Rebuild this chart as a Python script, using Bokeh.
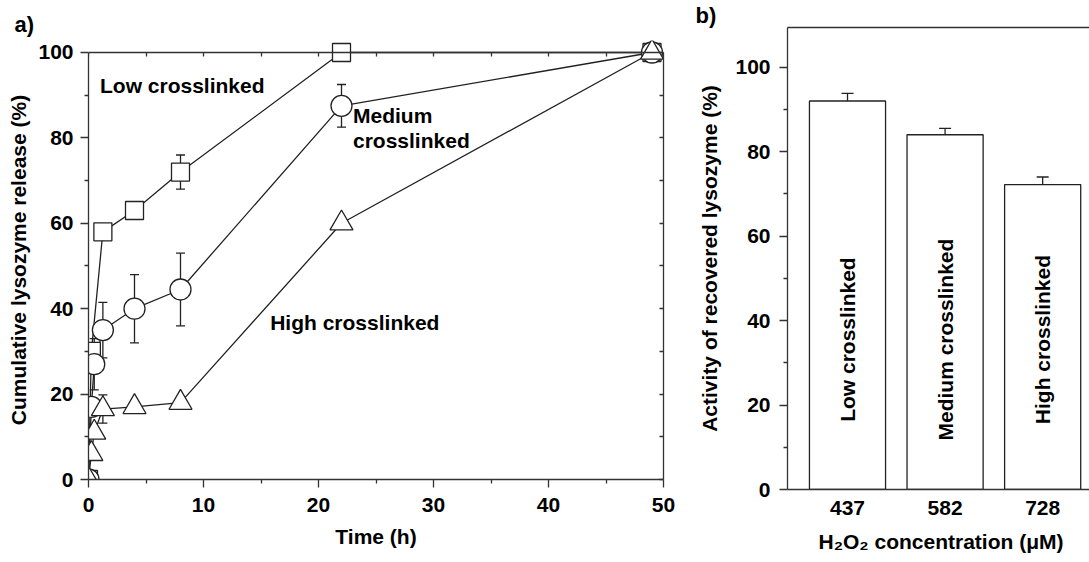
import math
from bokeh.plotting import figure
from bokeh.layouts import row
from bokeh.models import (ColumnDataSource, Whisker, TeeHead, Label, LinearAxis,
                          FixedTicker, Range1d, Title, Plot)
from bokeh.embed import file_html
from bokeh.resources import INLINE
from bokeh.core.properties import value

# ---------------- data: panel a ----------------
time_low = [0, 0.25, 1.25, 4, 8, 22, 49]
release_low = [0, 30, 58, 63, 72, 100, 100]
err_low = [0, 0, 0, 0, 4, 0, 0]

time_med = [0, 0.25, 0.5, 1.25, 4, 8, 22, 49]
release_med = [0, 17, 27, 35, 40, 44.5, 87.5, 100]
err_med = [0, 0, 6, 6.5, 8, 8.5, 5, 0]

time_high = [0, 0.25, 0.5, 1.25, 4, 8, 22, 49]
release_high = [0, 6, 11, 16.5, 17, 18, 60, 100]
err_high = [0, 0, 0, 3.3, 0, 0, 0, 0]

x_ticks_a = [0, 10, 20, 30, 40, 50]
x_minor_a = [5, 15, 25, 35, 45]
y_ticks = [0, 20, 40, 60, 80, 100]
y_minor = [10, 30, 50, 70, 90]

# ---------------- data: panel b ----------------
conc_labels = ["437", "582", "728"]
activity = [92, 84, 72.2]
activity_err = [1.8, 1.5, 1.8]
bar_names = ["Low crosslinked", "Medium crosslinked", "High crosslinked"]

FONT = "Liberation Sans"
FS = "21px"
INK = "#222222"
AX = "#333333"
HAS_FRAME_ALIGN = "frame_align" in Plot.properties()


def style_axis(ax, major_out=8, minor_out=4):
    ax.axis_line_color = AX
    ax.axis_line_width = 1.3
    ax.major_tick_line_color = AX
    ax.major_tick_line_width = 1.3
    ax.minor_tick_line_color = AX
    ax.minor_tick_line_width = 1.3
    ax.major_tick_out = major_out
    ax.major_tick_in = 0
    ax.minor_tick_out = minor_out
    ax.minor_tick_in = 0
    ax.major_label_text_font = FONT
    ax.major_label_text_font_style = "bold"
    ax.major_label_text_font_size = FS
    ax.major_label_text_color = "black"
    ax.axis_label_text_font = FONT
    ax.axis_label_text_font_style = "bold"
    ax.axis_label_text_font_size = FS
    ax.axis_label_text_color = "black"


def mirror_axis(minor, bounds, loc=None):
    ax = LinearAxis(ticker=FixedTicker(ticks=[], minor_ticks=minor), bounds=bounds)
    if loc is not None:
        ax.fixed_location = loc
    ax.axis_line_color = AX
    ax.axis_line_width = 1.3
    ax.minor_tick_line_color = AX
    ax.minor_tick_line_width = 1.3
    ax.major_tick_in = 0
    ax.major_tick_out = 0
    ax.minor_tick_in = 4
    ax.minor_tick_out = 0
    ax.major_label_standoff = 0
    return ax


def style_title(t, offset, standoff, size="22px"):
    t.align = "left"
    t.offset = offset
    t.standoff = standoff
    t.text_font = FONT
    t.text_font_style = "bold"
    t.text_font_size = size
    t.text_color = "black"


# ================= panel a =================
p1 = figure(width=680, height=556, x_range=Range1d(0, 50), y_range=Range1d(0, 102.81),
            title="a)", output_backend="svg", toolbar_location=None,
            min_border_left=88, min_border_right=17, min_border_top=40, min_border_bottom=77)
if HAS_FRAME_ALIGN:
    p1.frame_align = False
p1.outline_line_color = None
p1.grid.grid_line_color = None
style_title(p1.title, -74, 7)

p1.xaxis.ticker = FixedTicker(ticks=x_ticks_a, minor_ticks=x_minor_a)
p1.yaxis.ticker = FixedTicker(ticks=y_ticks, minor_ticks=y_minor)
p1.yaxis.bounds = (0, 100)
style_axis(p1.xaxis[0])
style_axis(p1.yaxis[0])
p1.xaxis.axis_label = "Time (h)"
p1.yaxis.axis_label = "Cumulative lysozyme release (%)"
p1.xaxis.major_label_standoff = 10
p1.xaxis.axis_label_standoff = 10
p1.yaxis.major_label_standoff = 7
p1.yaxis.axis_label_standoff = 5

p1.add_layout(mirror_axis(list(range(0, 51, 5)), (0, 50), loc=100), "above")
p1.add_layout(mirror_axis(list(range(0, 101, 10)), (0, 100)), "right")

series = [
    (time_low, release_low, err_low, "square", 18),
    (time_med, release_med, err_med, "circle", 21),
    (time_high, release_high, err_high, "triangle", 23),
]
for t, v, e, marker, size in series:
    src = ColumnDataSource(dict(t=t, v=v))
    p1.line("t", "v", source=src, line_color=INK, line_width=1.3)
    et = [ti for ti, ei in zip(t, e) if ei > 0]
    up = [vi + ei for vi, ei in zip(v, e) if ei > 0]
    lo = [vi - ei for vi, ei in zip(v, e) if ei > 0]
    if et:
        esrc = ColumnDataSource(dict(t=et, up=up, lo=lo))
        p1.add_layout(Whisker(base="t", upper="up", lower="lo", source=esrc,
                              line_color=INK, line_width=1.3,
                              upper_head=TeeHead(size=9, line_color=INK, line_width=1.3),
                              lower_head=TeeHead(size=9, line_color=INK, line_width=1.3)))

for t, v, e, marker, size in series:
    src = ColumnDataSource(dict(t=t, v=v))
    p1.scatter("t", "v", source=src, marker=marker, size=size, fill_color="white",
               line_color=INK, line_width=1.3)


def add_label(p, x, y, text, align="left"):
    p.add_layout(Label(x=x, y=y, text=text, text_font=FONT, text_font_style="bold",
                       text_font_size=FS, text_color="black", text_align=align,
                       text_baseline="middle"))


add_label(p1, 1.0, 92.3, "Low crosslinked")
add_label(p1, 23.0, 85.2, "Medium")
add_label(p1, 23.0, 79.3, "crosslinked")
add_label(p1, 15.8, 36.8, "High crosslinked")

# ================= panel b =================
xs = [1, 2, 3]
p2 = figure(width=409, height=562, x_range=Range1d(0.385, 3.48), y_range=Range1d(0, 109.4),
            title="b)", output_backend="svg", toolbar_location=None,
            min_border_left=107, min_border_right=0, min_border_top=26, min_border_bottom=72)
if HAS_FRAME_ALIGN:
    p2.frame_align = False
p2.outline_line_color = None
p2.grid.grid_line_color = None
style_title(p2.title, -92, 0)

p2.yaxis.ticker = FixedTicker(ticks=y_ticks, minor_ticks=y_minor)
p2.xaxis.ticker = FixedTicker(ticks=xs)
p2.xaxis.major_label_overrides = {x: lab for x, lab in zip(xs, conc_labels)}
style_axis(p2.xaxis[0], major_out=0, minor_out=0)
style_axis(p2.yaxis[0])
p2.xaxis.major_tick_line_color = None
p2.xaxis.minor_tick_line_color = None
p2.xaxis.major_label_standoff = 11
p2.yaxis.axis_label = "Activity of recovered lysozyme (%)"
p2.yaxis.major_label_standoff = 9
p2.yaxis.axis_label_standoff = 11

top = LinearAxis(ticker=FixedTicker(ticks=[]))
top.axis_line_color = AX
top.axis_line_width = 1.3
top.major_tick_out = 0
top.major_tick_in = 0
top.minor_tick_out = 0
top.minor_tick_in = 0
top.major_label_standoff = 0
p2.add_layout(top, "above")

xtitle = Title(text="H\u2082O\u2082 concentration (\u03bcM)")
style_title(xtitle, 31, 20, size=FS)
p2.add_layout(xtitle, "below")

bsrc = ColumnDataSource(dict(x=xs, top=activity,
                             up=[a + e for a, e in zip(activity, activity_err)],
                             name=bar_names))
p2.add_layout(Whisker(base="x", upper="up", lower="top", source=bsrc,
                      line_color=INK, line_width=1.3, level="glyph",
                      upper_head=TeeHead(size=12, line_color=INK, line_width=1.3),
                      lower_head=None))
p2.vbar(x="x", top="top", width=0.78, bottom=0, source=bsrc, fill_color="white",
        line_color=INK, line_width=1.3)
p2.text(x="x", y=35.5, text="name", source=bsrc, angle=math.pi / 2,
        text_font=value(FONT), text_font_style="bold", text_font_size=FS,
        text_align="center", text_baseline="middle", text_color="black")

layout = row(p1, p2, spacing=0)
open("out.html", "w").write(file_html(layout, INLINE))
